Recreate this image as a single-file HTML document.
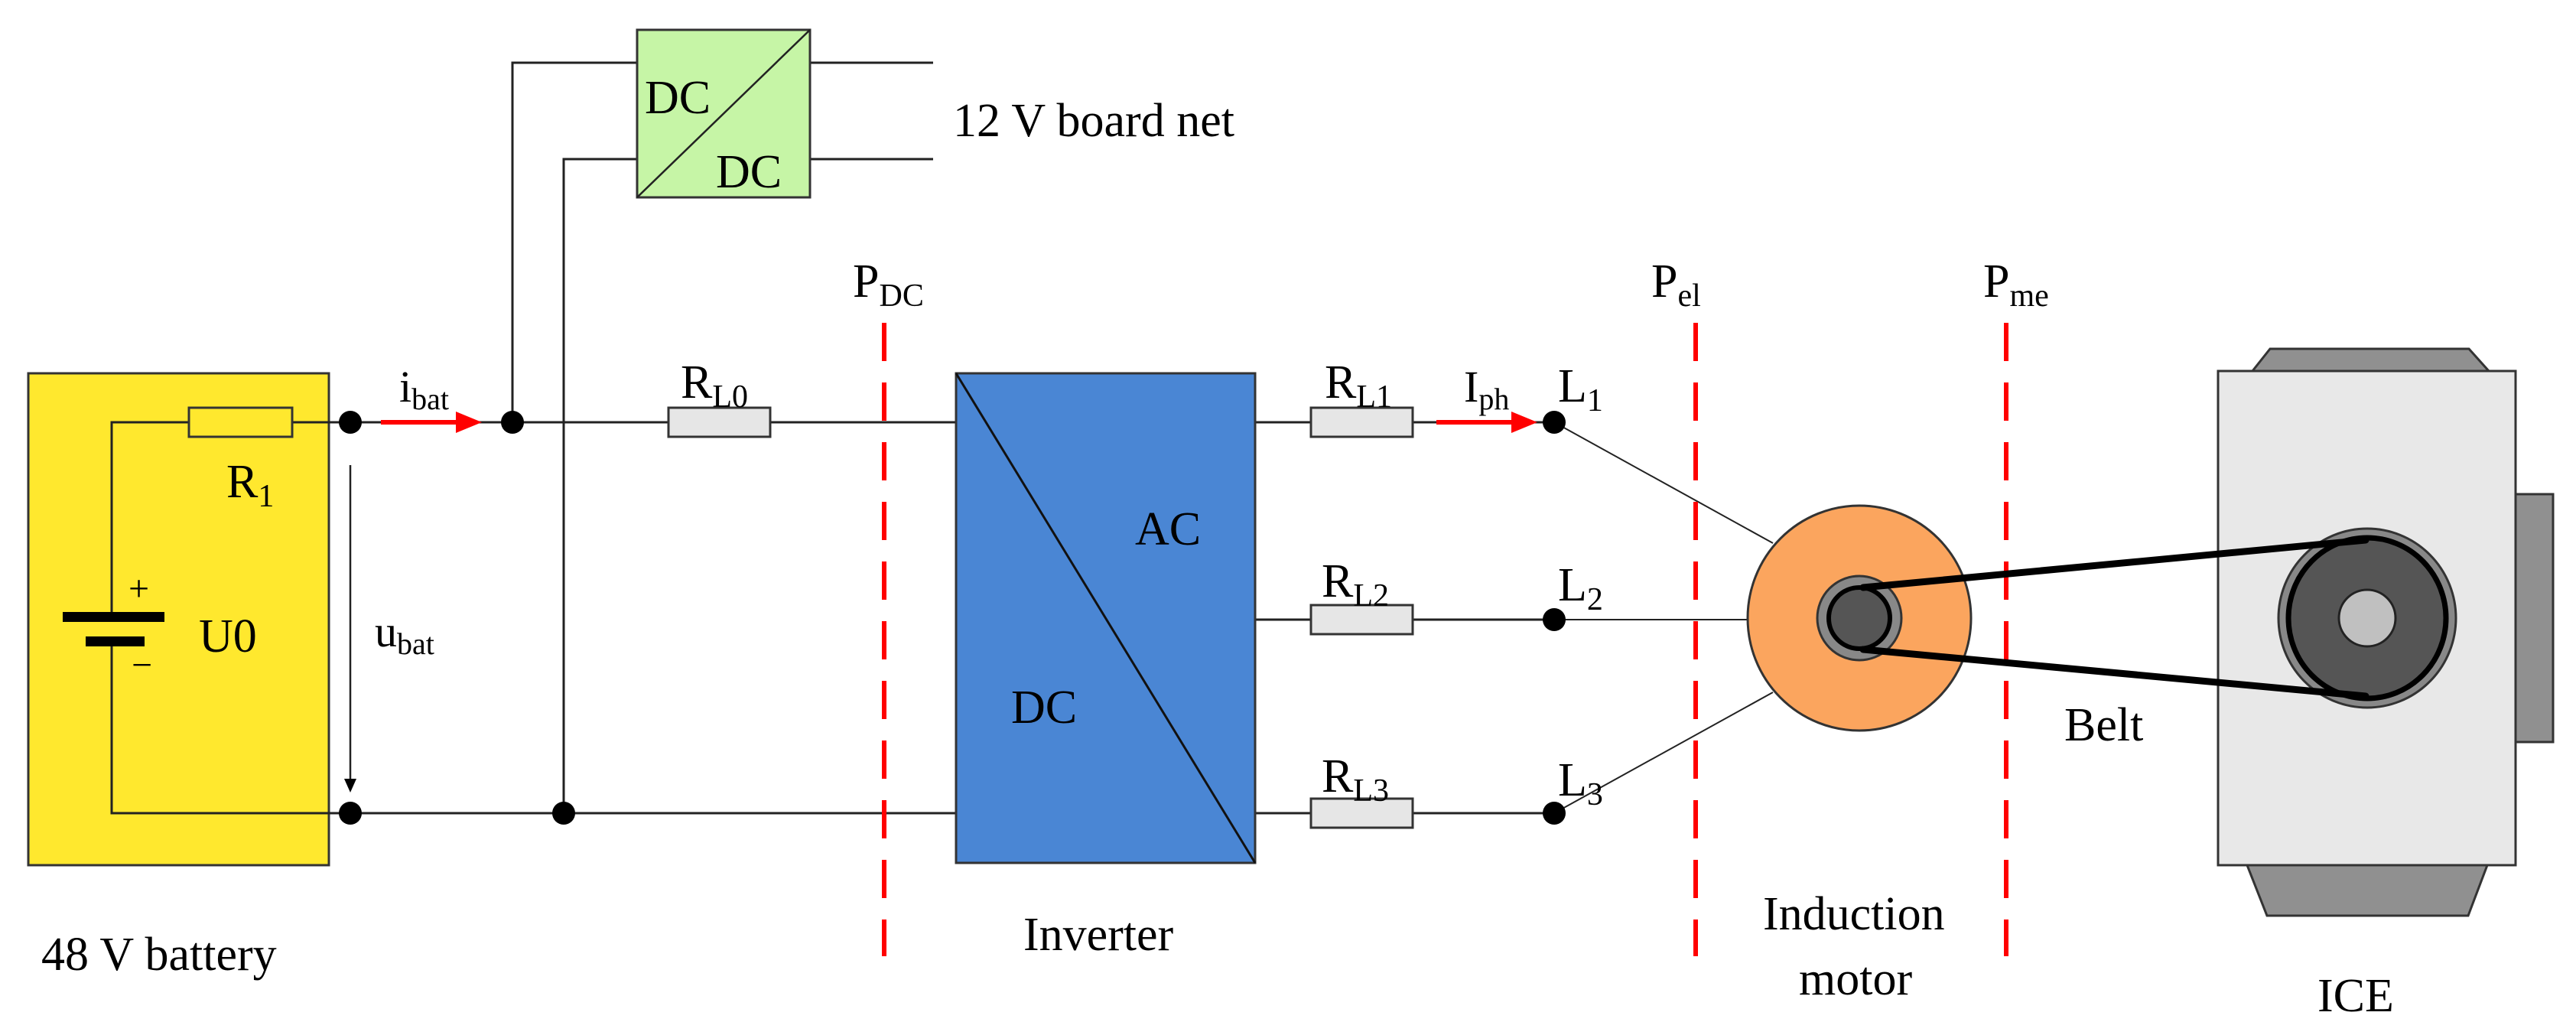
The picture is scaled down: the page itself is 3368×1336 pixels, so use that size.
<!DOCTYPE html>
<html><head><meta charset="utf-8"><style>
html,body{margin:0;padding:0;background:#fff;}
svg{display:block;}
text{font-family:"Liberation Serif",serif;fill:#000;}
</style></head><body>
<svg width="3368" height="1336" viewBox="0 0 3368 1336" xmlns="http://www.w3.org/2000/svg">
<!-- battery box -->
<rect x="37" y="488" width="393" height="643" fill="#ffe82e" stroke="#333" stroke-width="3"/>
<g stroke="#222" stroke-width="3" fill="none">
<polyline points="458,552 146,552 146,806"/>
<polyline points="146,838 146,1063 458,1063"/>
<line x1="458" y1="552" x2="1250" y2="552"/>
<line x1="458" y1="1063" x2="1250" y2="1063"/>
<polyline points="670,552 670,82 833,82"/>
<polyline points="737,1063 737,208 833,208"/>
<line x1="1059" y1="82" x2="1220" y2="82"/>
<line x1="1059" y1="208" x2="1220" y2="208"/>
<line x1="1641" y1="552" x2="2032" y2="552"/>
<line x1="1641" y1="810" x2="2032" y2="810"/>
<line x1="1641" y1="1063" x2="2032" y2="1063"/>
<line x1="2032" y1="552" x2="2318" y2="710" stroke-width="2"/>
<line x1="2032" y1="810" x2="2285" y2="810" stroke-width="2"/>
<line x1="2032" y1="1063" x2="2318" y2="905" stroke-width="2"/>
</g>
<rect x="82" y="800" width="133" height="13" fill="#000"/>
<rect x="112" y="832" width="77" height="13" fill="#000"/>
<text x="168" y="785" font-size="48">+</text>
<text x="172" y="885" font-size="48">−</text>
<text x="260" y="852" font-size="62">U0</text>
<rect x="247" y="533" width="135" height="38" fill="#ffe82e" stroke="#333" stroke-width="3"/>
<text x="296" y="650" font-size="62">R<tspan font-size="42" dy="12">1</tspan></text>
<line x1="458" y1="608" x2="458" y2="1020" stroke="#222" stroke-width="2.5"/>
<path d="M450,1018 L466,1018 L458,1036z" fill="#000"/>
<text x="490" y="845" font-size="58">u<tspan font-size="40" dy="10">bat</tspan></text>
<!-- i_bat arrow -->
<line x1="498" y1="552" x2="600" y2="552" stroke="#f00" stroke-width="6"/>
<path d="M596,538 L630,552 L596,566z" fill="#f00"/>
<text x="522" y="525" font-size="58">i<tspan font-size="40" dy="10">bat</tspan></text>
<g fill="#000"><circle cx="458" cy="552" r="15"/><circle cx="458" cy="1063" r="15"/><circle cx="670" cy="552" r="15"/><circle cx="737" cy="1063" r="15"/>
<circle cx="2032" cy="552" r="15"/><circle cx="2032" cy="810" r="15"/><circle cx="2032" cy="1063" r="15"/></g>
<rect x="833" y="39" width="226" height="219" fill="#c6f5a6" stroke="#333" stroke-width="3"/>
<line x1="833" y1="258" x2="1059" y2="39" stroke="#222" stroke-width="2.5"/>
<text x="843" y="148" font-size="62">DC</text>
<text x="936" y="245" font-size="62">DC</text>
<text x="1246" y="178" font-size="62">12 V board net</text>
<rect x="874" y="533" width="133" height="38" fill="#e6e6e6" stroke="#333" stroke-width="3"/>
<text x="890" y="520" font-size="62">R<tspan font-size="42" dy="12">L0</tspan></text>
<g stroke="#f00" stroke-width="6" stroke-dasharray="50,28">
<line x1="1156" y1="422" x2="1156" y2="1250"/>
<line x1="2217" y1="422" x2="2217" y2="1250"/>
<line x1="2623" y1="422" x2="2623" y2="1250"/>
</g>
<text x="1115" y="388" font-size="62">P<tspan font-size="42" dy="12">DC</tspan></text>
<text x="2159" y="388" font-size="62">P<tspan font-size="42" dy="12">el</tspan></text>
<text x="2593" y="388" font-size="62">P<tspan font-size="42" dy="12">me</tspan></text>
<rect x="1250" y="488" width="391" height="640" fill="#4a86d4" stroke="#333" stroke-width="3"/>
<line x1="1250" y1="488" x2="1641" y2="1128" stroke="#111" stroke-width="3"/>
<text x="1484" y="712" font-size="62">AC</text>
<text x="1322" y="945" font-size="62">DC</text>
<text x="1338" y="1242" font-size="62">Inverter</text>
<text x="54" y="1268" font-size="62">48 V battery</text>
<g fill="#e6e6e6" stroke="#333" stroke-width="3">
<rect x="1714" y="533" width="133" height="38"/>
<rect x="1714" y="791" width="133" height="38"/>
<rect x="1714" y="1044" width="133" height="38"/>
</g>
<text x="1732" y="520" font-size="62">R<tspan font-size="42" dy="12">L1</tspan></text>
<text x="1728" y="780" font-size="62">R<tspan font-size="42" dy="12">L2</tspan></text>
<text x="1728" y="1035" font-size="62">R<tspan font-size="42" dy="12">L3</tspan></text>
<line x1="1878" y1="552" x2="1980" y2="552" stroke="#f00" stroke-width="6"/>
<path d="M1976,538 L2010,552 L1976,566z" fill="#f00"/>
<text x="1914" y="525" font-size="58">I<tspan font-size="40" dy="10">ph</tspan></text>
<text x="2037" y="525" font-size="62">L<tspan font-size="42" dy="12">1</tspan></text>
<text x="2037" y="785" font-size="62">L<tspan font-size="42" dy="12">2</tspan></text>
<text x="2037" y="1040" font-size="62">L<tspan font-size="42" dy="12">3</tspan></text>
<ellipse cx="2431" cy="808" rx="146" ry="147" fill="#fba55e" stroke="#333" stroke-width="3"/>
<circle cx="2431" cy="808" r="55" fill="#888" stroke="#333" stroke-width="3"/>
<circle cx="2431" cy="808" r="40" fill="#555" stroke="#000" stroke-width="6"/>
<text x="2305" y="1215" font-size="62">Induction</text>
<text x="2352" y="1300" font-size="62">motor</text>
<polygon points="2968,456 3228,456 3254,485 2945,485" fill="#909090" stroke="#333" stroke-width="3"/>
<polygon points="2938,1131 3252,1131 3227,1197 2964,1197" fill="#909090" stroke="#333" stroke-width="3"/>
<rect x="3289" y="646" width="49" height="324" fill="#909090" stroke="#333" stroke-width="3"/>
<rect x="2900" y="485" width="389" height="646" fill="#e8e8e8" stroke="#333" stroke-width="3"/>
<ellipse cx="3095" cy="808" rx="116" ry="117" fill="#888" stroke="#333" stroke-width="3"/>
<ellipse cx="3095" cy="808" rx="103" ry="105" fill="#555" stroke="#000" stroke-width="7"/>
<circle cx="3095" cy="808" r="37" fill="#c0c0c0" stroke="#222" stroke-width="3"/>
<g stroke="#000" stroke-width="9" stroke-linecap="round">
<line x1="2436" y1="768" x2="3093" y2="706"/>
<line x1="2436" y1="849" x2="3093" y2="910"/>
</g>
<text x="2699" y="968" font-size="62">Belt</text>
<text x="3030" y="1322" font-size="62">ICE</text>
</svg>
</body></html>
